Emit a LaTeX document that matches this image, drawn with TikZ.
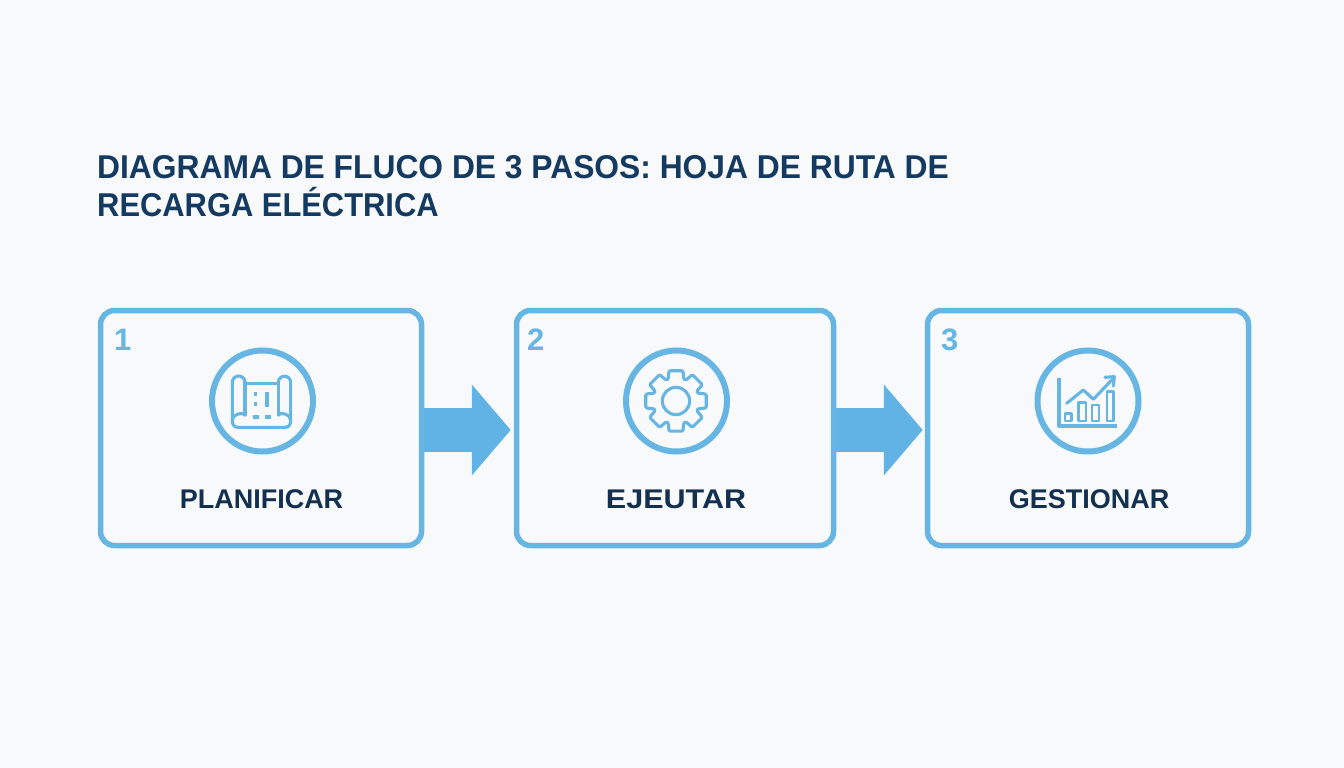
\documentclass[tikz,border=0pt]{standalone}
\usepackage{fontspec}
\setmainfont{Liberation Sans}
\newfontfamily\titlefont[FakeStretch=0.963]{Liberation Sans}
\usetikzlibrary{arrows.meta}
\definecolor{bgc}{HTML}{F7F9FA}
\definecolor{blu}{HTML}{67B5E3}
\definecolor{arr}{HTML}{60B3E4}
\definecolor{titlec}{HTML}{143A62}
\definecolor{labelc}{HTML}{14304F}
\tikzset{
  stepbox/.style={draw=blu,line width=5.5pt,rounded corners=14pt,fill=bgc,minimum height=235pt,inner sep=0pt},
  numlab/.style={text=blu,font=\fontsize{31}{31}\selectfont\bfseries,anchor=base west,inner sep=0pt},
  steplab/.style={text=labelc,font=\fontsize{27}{27}\selectfont\bfseries,anchor=base,inner sep=0pt},
  ring/.style={draw=blu,line width=6pt,circle,minimum size=101pt,inner sep=0pt},
  flow/.style={draw=arr,fill=arr,line width=44pt,-{Triangle[length=39pt,width=89pt]}},
  icon/.style={draw=blu,line width=3.1pt,line join=round,line cap=round,x=.3333pt,y=-.3333pt},
}
\begin{document}
\begin{tikzpicture}[x=1pt,y=-1pt]
\useasboundingbox (0,0) rectangle (1344,768);
\fill[bgc] (0,0) rectangle (1344,768);
\node[anchor=base west,inner sep=0pt,text=titlec,align=left,font=\titlefont\fontsize{33}{38.5}\selectfont\bfseries] (title) at (97,216.5) {DIAGRAMA DE FLUCO DE 3 PASOS: HOJA DE RUTA DE\\\scalebox{.972}[1]{RECARGA ELÉCTRICA}};
\node[stepbox,minimum width=321pt] (b1) at (261,428) {};
\node[stepbox,minimum width=317pt] (b2) at (675,428) {};
\node[stepbox,minimum width=321pt] (b3) at (1088,428) {};
\draw[flow] ([yshift=-2pt]b1.east) -- ([xshift=-3pt,yshift=-2pt]b2.west);
\draw[flow] ([yshift=-2pt]b2.east) -- ([xshift=-2pt,yshift=-2pt]b3.west);
\node[numlab] (n1) at (114,350) {1};
\node[numlab] (n2) at (527,350) {2};
\node[numlab] (n3) at (941,350) {3};
\node[ring] (c1) at (262.5,401) {};
\node[ring] (c2) at (676.5,401) {};
\node[ring] (c3) at (1088,401) {};
\node[steplab] (l1) at (261.5,508) {PLANIFICAR};
\node[steplab] (l2) at (676,508) {\scalebox{1.13}[1]{EJEUTAR}};
\node[steplab] (l3) at (1089,508) {GESTIONAR};
% blueprint icon
\begin{scope}[shift={(200,340)}]
\draw[icon] (135,130) -- (235,130);
\draw[icon] (135,127) -- (135,225) (235,225) -- (235,127);
\draw[icon] (97,240) .. controls (97,222) and (130,215) .. (135,225);
\draw[icon] (272,240) .. controls (272,222) and (240,215) .. (235,225);
\draw[icon] (97,240) -- (97,127) arc[start angle=180,end angle=360,radius=19];
\draw[icon] (235,127) arc[start angle=180,end angle=360,radius=18.5] -- (272,240);
\draw[icon] (97,240) .. controls (97,255) and (102,262) .. (115,262) -- (255,262) .. controls (267,262) and (272,255) .. (272,240);
\draw[icon,line cap=butt] (167,155) -- (167,168) (167,185) -- (167,198) (201,155) -- (201,200) (160,231) -- (176,231) (195,231) -- (212,231);
\end{scope}
% gear icon
\begin{scope}[shift={(615,340)}]
\draw[icon] (183,183) circle[radius=41];
\draw[icon,rounded corners=1.2pt,shift={(183,183)}]
  (-13:93) -- (13:93) -- (20:69)
  \foreach \a in {45,90,135,180,225,270,315}{
    -- (\a-20:69) -- (\a-13:93) -- (\a+13:93) -- (\a+20:69)
  } -- (-20:69) -- cycle;
\end{scope}
% chart icon
\begin{scope}[shift={(1025,340)}]
\draw[icon,line cap=butt,line width=3.4pt] (102,115) -- (102,258) -- (276,258);
\draw[icon,line width=2.7pt] (120,220) rectangle (140,243) (161,188) rectangle (183,243) (201,195) rectangle (222,243) (246,155) rectangle (265,243);
\draw[icon] (125,190) -- (175,150) -- (205,178) -- (262,118);
\draw[icon] (240,112) -- (268,110) -- (265,138);
\end{scope}
\end{tikzpicture}
\end{document}
